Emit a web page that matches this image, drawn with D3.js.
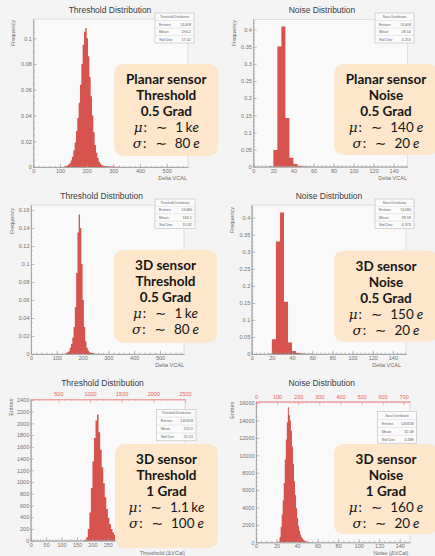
<!DOCTYPE html>
<html>
<head>
<meta charset="utf-8">
<title></title>
<script src="https://d3js.org/d3.v7.min.js"></script>
<style>
  body { margin: 0; background: #f4f4f4; }
  svg { display: block; font-family: "Liberation Sans", Arial, sans-serif; }
  .axis path, .axis line { stroke: #9c9c9c; stroke-width: 0.6; }
  .axis text { fill: #707070; font-size: 5.5px; }
  .axis--top path, .axis--top line { stroke: #f08a86; }
  .axis--top text { fill: #ec5b55; }
  .title { font-size: 8.5px; fill: #3c3c3c; }
  .atitle { font-size: 5.5px; fill: #6c6c6c; }
  .stat text { font-size: 3.8px; fill: #666; }
  .note text { font-family: Lato, "Open Sans", sans-serif; font-size: 13.5px; fill: #161616; }
</style>
</head>
<body>
<script>

// ---- data ----

// planar sensor, threshold, 0.5 Grad (bin width 5 VCAL)
var thrPlanarEdges = [115,120,125,130,135,140,145,150,155,160,165,170,175,180,185,190,195,200,205,210,215,220,225,230,235,240,245,250,255,260,265,270,275,280,285,290,295,300,310,320];
var thrPlanarFreq  = [0.0003,0.0005,0.001,0.002,0.003,0.005,0.008,0.013,0.019,0.028,0.038,0.05,0.064,0.08,0.095,0.105,0.108,0.1,0.086,0.07,0.055,0.04,0.027,0.017,0.011,0.007,0.004,0.0025,0.0015,0.001,0.0008,0.0006,0.0005,0.0004,0.0004,0.0003,0.0003,0.0003,0.0002,0.0002];

// planar sensor, noise, 0.5 Grad (bin width 4 VCAL)
var noisePlanarEdges = [16,20,24,28,32,36,40,44,48,52];
var noisePlanarFreq  = [0.001,0.0485,0.351,0.409,0.142,0.026,0.008,0.003,0.001,0.0005];

// 3D sensor, threshold, 0.5 Grad
var thr3dEdges = [135,140,145,150,155,160,165,170,175,180,185,190,195,200,205,210,215,220,225,230,235,240,250,260,270];
var thr3dFreq  = [0.001,0.002,0.003,0.007,0.011,0.018,0.03,0.052,0.09,0.135,0.155,0.14,0.1,0.06,0.03,0.014,0.007,0.004,0.002,0.0015,0.001,0.0008,0.0005,0.0004,0.0003];

// 3D sensor, noise, 0.5 Grad
var noise3dEdges = [16,20,24,28,32,36,40,44,48,52,56];
var noise3dFreq  = [0.001,0.043,0.33,0.415,0.153,0.034,0.009,0.003,0.0015,0.001,0.0005];

// 3D sensor, threshold, 1 Grad (entries)
var thr3d1Edges = [170,175,180,185,190,195,200,205,210,215,220,225,230,235,240,245,250,255,260,265,270,275,280,285,290,295,300,305,310,315,320,325,330,335,340,345];
var thr3d1Entries = [5,15,60,200,480,900,1350,1750,2050,2150,1850,1550,1250,980,740,540,390,280,200,140,100,72,52,38,28,21,16,12,9,7,5,4,3,2,2,1];

// 3D sensor, noise, 1 Grad (entries)
var noise3d1Edges = [21,22,23,24,25,26,27,28,29,30,31,32,33,34,35,36,37,38,39,40,41,42,43,44,45,46,47,48,49,50,51,52,53,54,55];
var noise3d1Entries = [20,100,600,1800,3200,4800,6800,9500,11800,13800,15500,14600,14000,12800,11000,9000,7000,5400,3900,2800,1900,1300,900,600,420,280,190,130,90,60,40,30,20,15,10];

// tick labels
var thrXTicks = [0,100,200,300,400,500];
var noiseXTicks = [0,20,40,60,80,100,120,140];
var thr1XTicks = [0,50,100,150,200,250,300,350,400,450,500];
var thrPlanarYTicks = [0,0.02,0.04,0.06,0.08,0.1];
var thr3dYTicks = [0,0.02,0.04,0.06,0.08,0.1,0.12,0.14,0.16];
var noiseYTicks = [0,0.05,0.1,0.15,0.2,0.25,0.3,0.35,0.4];
var thr1YTicks = [0,200,400,600,800,1000,1200,1400,1600,1800,2000,2200,2400];
var noise1YTicks = [0,2000,4000,6000,8000,10000,12000,14000,16000];
var thr1ElecTicks = [500,1000,1500,2000,2500];
var noise1ElecTicks = [0,100,200,300,400,500,600,700];

// statistics boxes
var statNames = ["Threshold Distribution", "Noise Distribution", "Threshold Distribution", "Noise Distribution", "Threshold Distribution", "Noise Distribution"];
var statEntries = ["51408","51408","51080","51080","145658","145658"];
var statMean = ["194.2","28.54","186.1","28.58","220.9","32.58"];
var statStd = ["17.02","4.253","15.82","4.373","20.13","4.488"];

// annotation text
var noteHead = [
  ["Planar sensor","Threshold","0.5 Grad"],
  ["Planar sensor","Noise","0.5 Grad"],
  ["3D sensor","Threshold","0.5 Grad"],
  ["3D sensor","Noise","0.5 Grad"],
  ["3D sensor","Threshold","1 Grad"],
  ["3D sensor","Noise","1 Grad"]
];
var noteMu = ["1","140","1","150","1.1","160"];
var noteMuPrefix = ["k","","k","","k",""];
var noteSigma = ["80","20","80","20","100","20"];

// ---- layout ----
var panels = [
  { edges: thrPlanarEdges, vals: thrPlanarFreq, binW: 5,
    frame: [33.3, 188, 19, 167], xDom: [0, 580], yDom: [0, 0.115],
    xTicks: thrXTicks, xMinor: 20, yTicks: thrPlanarYTicks, yMinor: 0.005,
    title: "Threshold Distribution", titleX: 110, titleY: 12.5,
    xLab: "Delta VCAL", xLabX: 187, xLabY: 180, yLab: "Frequency", yLabX: 15, yLabY: 20,
    stat: [155, 13, 39, 30], note: [114.3, 64, 104, 92] },
  { edges: noisePlanarEdges, vals: noisePlanarFreq, binW: 4,
    frame: [253.3, 407.7, 19.3, 166.7], xDom: [0, 154], yDom: [0, 0.43],
    xTicks: noiseXTicks, xMinor: 4, yTicks: noiseYTicks, yMinor: 0.01,
    title: "Noise Distribution", titleX: 322, titleY: 12.5,
    xLab: "Delta VCAL", xLabX: 407, xLabY: 180, yLab: "Frequency", yLabX: 236, yLabY: 20,
    stat: [375, 13, 39, 30], note: [334, 64, 104, 91] },
  { edges: thr3dEdges, vals: thr3dFreq, binW: 5,
    frame: [31, 184, 205, 354], xDom: [0, 593], yDom: [0, 0.1656],
    xTicks: thrXTicks, xMinor: 20, yTicks: thr3dYTicks, yMinor: 0.005,
    title: "Threshold Distribution", titleX: 101.7, titleY: 198.7,
    xLab: "Delta VCAL", xLabX: 184, xLabY: 367, yLab: "Frequency", yLabX: 13.5, yLabY: 208,
    stat: [155, 199, 40, 29.5], note: [114, 250, 103, 92.7] },
  { edges: noise3dEdges, vals: noise3dFreq, binW: 4,
    frame: [251.7, 406, 205, 354], xDom: [0, 153], yDom: [0, 0.437],
    xTicks: noiseXTicks, xMinor: 4, yTicks: noiseYTicks, yMinor: 0.01,
    title: "Noise Distribution", titleX: 329, titleY: 199,
    xLab: "Delta VCAL", xLabX: 401, xLabY: 366.5, yLab: "Frequency", yLabX: 234, yLabY: 207,
    stat: [375, 199, 39, 29.5], note: [334, 250.7, 104, 91] },
  { edges: thr3d1Edges, vals: thr3d1Entries, binW: 5,
    frame: [30.7, 185, 399.3, 540.7], xDom: [0, 500], yDom: [0, 2410],
    xTicks: thr1XTicks, xMinor: 10, yTicks: thr1YTicks, yMinor: 50,
    topDom: [63, 2500], topTicks: thr1ElecTicks, topMinor: 100,
    title: "Threshold Distribution", titleX: 102.5, titleY: 385.7,
    xLab: "Threshold (\u0394VCal)", xLabX: 185, xLabY: 554.5, yLab: "Entries", yLabX: 12.5, yLabY: 398.5,
    stat: [156.7, 409.3, 39.3, 31.5], note: [115, 444, 103, 104] },
  { edges: noise3d1Edges, vals: noise3d1Entries, binW: 1,
    frame: [256, 410, 401.7, 542.3], xDom: [0, 150], yDom: [0, 16150],
    xTicks: noiseXTicks, xMinor: 5, yTicks: noise1YTicks, yMinor: 500,
    topDom: [0, 730], topTicks: noise1ElecTicks, topMinor: 20,
    title: "Noise Distribution", titleX: 321.7, titleY: 385.7,
    xLab: "Noise (\u0394VCal)", xLabX: 408.3, xLabY: 554.5, yLab: "Entries", yLabX: 234, yLabY: 401.7,
    stat: [377.7, 411.7, 39, 31.5], note: [334, 444, 104, 90] }
];

var W = 435, H = 556;
var svg = d3.select("body").append("svg")
  .attr("width", W)
  .attr("height", H);

svg.append("rect")
  .attr("width", W)
  .attr("height", H)
  .attr("fill", "#f4f4f4");

panels.forEach(function(p, k) {
  var f = p.frame;
  var x = d3.scaleLinear().domain(p.xDom).range([f[0], f[1]]);
  var y = d3.scaleLinear().domain(p.yDom).range([f[3], f[2]]);
  var g = svg.append("g");

  g.append("rect")
    .attr("x", f[0]).attr("y", f[2])
    .attr("width", f[1] - f[0]).attr("height", f[3] - f[2])
    .attr("fill", "#f9f9f9")
    .attr("stroke", "#c4c4c4")
    .attr("stroke-width", 0.5);

  // histogram as one path, so adjacent bins show no seams
  var path = d3.path();
  p.edges.forEach(function(e, i) {
    var x0 = x(e), x1 = x(e + p.binW), yt = y(p.vals[i]);
    path.moveTo(x0, y(0));
    path.lineTo(x0, yt);
    path.lineTo(x1, yt);
    path.lineTo(x1, y(0));
    path.closePath();
  });
  g.append("path")
    .attr("d", path.toString())
    .attr("fill", "#d6534e");

  // minor ticks
  g.append("g")
    .attr("class", "axis")
    .attr("transform", "translate(0," + f[3] + ")")
    .call(d3.axisBottom(x).tickValues(d3.range(p.xDom[0], p.xDom[1], p.xMinor)).tickSize(-1.5).tickSizeOuter(0).tickFormat(""));
  g.append("g")
    .attr("class", "axis")
    .attr("transform", "translate(" + f[0] + ",0)")
    .call(d3.axisLeft(y).tickValues(d3.range(p.yDom[0], p.yDom[1], p.yMinor)).tickSize(-1.5).tickSizeOuter(0).tickFormat(""));

  // major ticks
  g.append("g")
    .attr("class", "axis")
    .attr("transform", "translate(0," + f[3] + ")")
    .call(d3.axisBottom(x).tickValues(p.xTicks).tickSize(-3.5).tickSizeOuter(0).tickPadding(2));
  g.append("g")
    .attr("class", "axis")
    .attr("transform", "translate(" + f[0] + ",0)")
    .call(d3.axisLeft(y).tickValues(p.yTicks).tickSize(-3.5).tickSizeOuter(0).tickPadding(1.5)
      .tickFormat(d3.format("~g")));

  // electrons axis on top
  if (p.topDom) {
    var xe = d3.scaleLinear().domain(p.topDom).range([f[0], f[1]]);
    g.append("g")
      .attr("class", "axis axis--top")
      .attr("transform", "translate(0," + f[2] + ")")
      .call(d3.axisTop(xe).tickValues(d3.range(0, p.topDom[1], p.topMinor).filter(function(v) { return v >= p.topDom[0]; }))
        .tickSize(-1.5).tickSizeOuter(0).tickFormat(""));
    g.append("g")
      .attr("class", "axis axis--top")
      .attr("transform", "translate(0," + f[2] + ")")
      .call(d3.axisTop(xe).tickValues(p.topTicks).tickSize(-3.5).tickSizeOuter(0).tickPadding(3)
        .tickFormat(d3.format("d")));
  }

  g.append("text")
    .attr("class", "title")
    .attr("x", p.titleX).attr("y", p.titleY)
    .attr("text-anchor", "middle")
    .text(p.title);

  g.append("text")
    .attr("class", "atitle")
    .attr("x", p.xLabX).attr("y", p.xLabY)
    .attr("text-anchor", "end")
    .text(p.xLab);

  g.append("text")
    .attr("class", "atitle")
    .attr("transform", "translate(" + p.yLabX + "," + p.yLabY + ") rotate(-90)")
    .attr("text-anchor", "end")
    .text(p.yLab);

  // statistics box
  var s = p.stat;
  var sg = g.append("g").attr("class", "stat");
  sg.append("rect")
    .attr("x", s[0]).attr("y", s[1]).attr("width", s[2]).attr("height", s[3])
    .attr("fill", "#fbfbfb").attr("stroke", "#b0b0b0").attr("stroke-width", 0.5);
  var rowH = s[3] / 4;
  sg.append("text")
    .attr("x", s[0] + s[2] / 2).attr("y", s[1] + rowH / 2 + 1.2)
    .attr("text-anchor", "middle")
    .style("font-size", "3px")
    .text(statNames[k]);
  var rows = [["Entries", statEntries[k]], ["Mean", statMean[k]], ["Std Dev", statStd[k]]];
  rows.forEach(function(r, i) {
    var ry = s[1] + rowH * (i + 1);
    sg.append("line")
      .attr("x1", s[0]).attr("x2", s[0] + s[2])
      .attr("y1", ry).attr("y2", ry)
      .attr("stroke", "#cccccc").attr("stroke-width", 0.4);
    sg.append("text").attr("x", s[0] + 4).attr("y", ry + rowH / 2 + 1.3).text(r[0]);
    sg.append("text").attr("x", s[0] + s[2] - 3).attr("y", ry + rowH / 2 + 1.3)
      .attr("text-anchor", "end").text(r[1]);
  });
});

// annotation boxes go on top of everything
panels.forEach(function(p, k) {
  var n = p.note;
  var ng = svg.append("g").attr("class", "note");
  ng.append("rect")
    .attr("x", n[0]).attr("y", n[1]).attr("width", n[2]).attr("height", n[3])
    .attr("rx", 9).attr("ry", 9)
    .attr("fill", "#fde6ca");
  var cx = k % 2 ? 386 : n[0] + n[2] / 2;

  noteHead[k].forEach(function(t, i) {
    ng.append("text")
      .attr("x", cx).attr("y", n[1] + 15 + 16 * i + 4.8)
      .attr("text-anchor", "middle")
      .style("font-weight", "bold")
      .text(t);
  });

  [["\u03bc", noteMu[k], noteMuPrefix[k]], ["\u03c3", noteSigma[k], ""]].forEach(function(m, i) {
    var t = ng.append("text")
      .attr("x", cx).attr("y", n[1] + 63 + 16 * i + 4.8)
      .attr("text-anchor", "middle");
    t.append("tspan").style("font-family", "'DejaVu Serif', serif").style("font-style", "italic").text(m[0]);
    t.append("tspan").attr("dx", 1).text(":");
    t.append("tspan").attr("dx", 9).style("font-family", "'DejaVu Sans', sans-serif").text("\u223c");
    t.append("tspan").attr("dx", 8).text(m[1]);
    if (m[2]) t.append("tspan").attr("dx", 2.5).text(m[2]);
    t.append("tspan").attr("dx", m[2] ? 0 : 3).style("font-style", "italic").text("e");
  });
});

</script>
</body>
</html>
